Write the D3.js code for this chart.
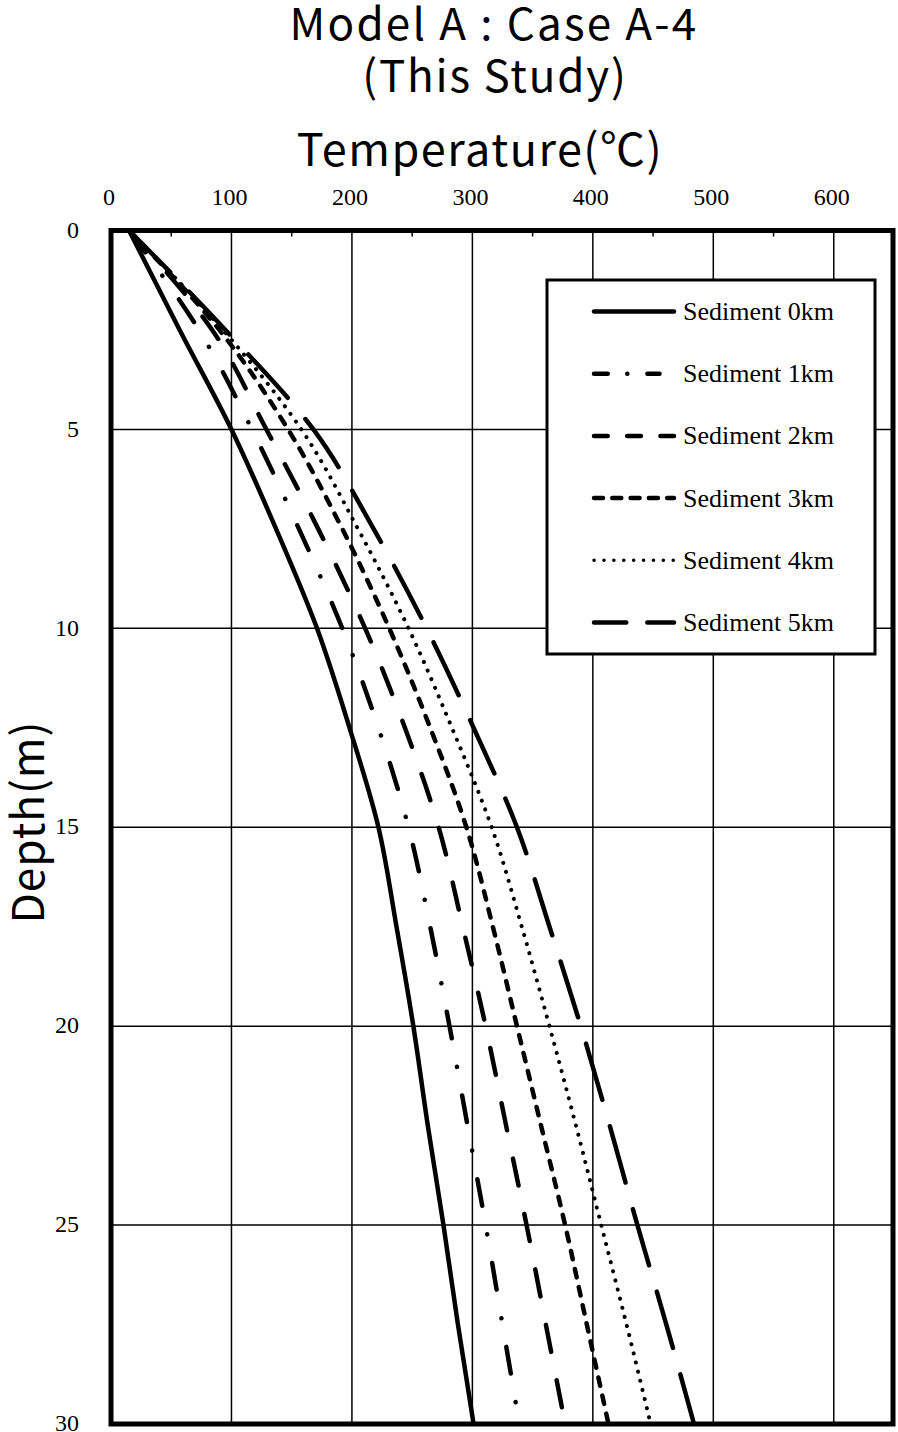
<!DOCTYPE html>
<html><head><meta charset="utf-8">
<script src="https://cdnjs.cloudflare.com/ajax/libs/d3/7.8.5/d3.min.js"></script>
<style>body{margin:0;background:#fff;} svg{display:block;}</style>
</head><body>
<svg id="chart" width="898" height="1432"></svg>
<script>
// ---- data ----
const depths = [0, 2.5, 5, 7.5, 10, 12.5, 15, 17.5, 20, 22.5, 25, 27.5, 30];
const sediment0 = [15, 57, 100, 137, 171, 198, 222, 237, 251, 263, 276, 288, 301];
const sediment1 = [15, 73, 117, 156, 192, 222, 247, 265, 281, 296, 311, 325, 339];
const sediment2 = [15, 84, 129, 172, 211, 244, 272, 292, 311, 328, 345, 361, 377];
const sediment3 = [15, 90, 147, 192, 231, 265, 295, 317, 337, 357, 377, 395, 413];
const sediment4 = [15, 93, 158, 205, 247, 283, 316, 341, 364, 386, 407, 428, 448];
const sediment5 = [15, 95, 168, 218, 262, 301, 337, 364, 390, 414, 437, 461, 484];
const seriesNames = ["Sediment 0km","Sediment 1km","Sediment 2km","Sediment 3km","Sediment 4km","Sediment 5km"];
const xTicks = [0, 100, 200, 300, 400, 500, 600];
const yTicks = [0, 5, 10, 15, 20, 25, 30];
const titleLines = ["Model A : Case A-4", "(This Study)"];
const xTitle = "Temperature(℃)";
const yTitle = "Depth(m)";

// ---- styles ----
const plotDash = ["none", "27,29,0.1,29", "27.5,29", "8.5,10", "0.1,9.3", "58.5,27.5"];
const plotWidth = [4.5, 4.5, 4.5, 4.5, 4, 4.5];
const legendDash = ["none", "13.75,19.5,0.1,20,12.2,100", "13.7,19.5", "9,9.3", "0.1,9.8", "32.3,21"];

const svg = d3.select("#chart");
const x = d3.scaleLinear().domain([0, 650]).range([111, 894]);
const y = d3.scaleLinear().domain([0, 30]).range([230.5, 1424]);

const sans = "'Noto Sans CJK JP', 'Noto Sans', sans-serif";
const serif = "'Liberation Serif', 'DejaVu Serif', serif";

// titles
svg.append("text").attr("x", 494).attr("y", 40).attr("text-anchor","middle")
  .style("font-family", sans).style("font-size","44px").style("letter-spacing","2.2px").text(titleLines[0]);
svg.append("text").attr("x", 495).attr("y", 92).attr("text-anchor","middle")
  .style("font-family", sans).style("font-size","44px").style("letter-spacing","1.8px").text(titleLines[1]);
svg.append("text").attr("x", 480).attr("y", 166).attr("text-anchor","middle")
  .style("font-family", sans).style("font-size","45px").style("letter-spacing","1.5px").text(xTitle);
svg.append("text").attr("transform","translate(44,822) rotate(-90)").attr("text-anchor","middle")
  .style("font-family", sans).style("font-size","44px").style("letter-spacing","1px").text(yTitle);

// gridlines
const g = svg.append("g");
g.selectAll(".vg").data(xTicks.filter(d => d > 0)).join("line")
  .attr("x1", d => x(d)).attr("x2", d => x(d)).attr("y1", y(0)).attr("y2", y(30))
  .attr("stroke","#000").attr("stroke-width",1.5);
g.selectAll(".hg").data(yTicks.filter(d => d > 0 && d < 30)).join("line")
  .attr("y1", d => y(d)).attr("y2", d => y(d)).attr("x1", x(0)).attr("x2", x(650))
  .attr("stroke","#000").attr("stroke-width",1.5);
// minor ticks on top
g.selectAll(".mt").data(d3.range(50, 650, 100)).join("line")
  .attr("x1", d => x(d)).attr("x2", d => x(d)).attr("y1", y(0)).attr("y2", y(0) + 6)
  .attr("stroke","#000").attr("stroke-width",1.5);

// tick labels
svg.selectAll(".xl").data(xTicks).join("text")
  .attr("x", d => x(d) - 2).attr("y", 205).attr("text-anchor","middle")
  .style("font-family", serif).style("font-size","24px").text(d => d);
svg.selectAll(".yl").data(yTicks).join("text")
  .attr("x", 79).attr("y", d => y(d)).attr("text-anchor","end").attr("dy","0.3em")
  .style("font-family", serif).style("font-size","24px").text(d => d);

// lines
const allSeries = [sediment0, sediment1, sediment2, sediment3, sediment4, sediment5];
const line = d3.line().x(d => x(d[1])).y(d => y(d[0])).curve(d3.curveMonotoneY);
svg.append("clipPath").attr("id","clip").append("rect")
  .attr("x", x(0)).attr("y", y(0)).attr("width", x(650)-x(0)).attr("height", y(30)-y(0));
const lg = svg.append("g").attr("clip-path","url(#clip)");
allSeries.forEach((s, i) => {
  lg.append("path").datum(depths.map((d, j) => [d, s[j]]))
    .attr("d", line).attr("fill","none").attr("stroke","#000")
    .attr("stroke-width", plotWidth[i]).attr("stroke-linecap","round")
    .attr("stroke-dasharray", plotDash[i]);
});

// frame
svg.append("rect").attr("x", x(0)).attr("y", y(0)).attr("width", x(650)-x(0)-1).attr("height", y(30)-y(0))
  .attr("fill","none").attr("stroke","#000").attr("stroke-width",5);

// legend
const leg = svg.append("g");
leg.append("rect").attr("x",547).attr("y",280).attr("width",328).attr("height",374)
  .attr("fill","#fff").attr("stroke","#000").attr("stroke-width",3);
seriesNames.forEach((name, i) => {
  const cy = 311.5 + i * 62.2;
  leg.append("line").attr("x1",594).attr("x2",674).attr("y1",cy).attr("y2",cy)
    .attr("stroke","#000").attr("stroke-width", i === 4 ? 3.5 : 4.5).attr("stroke-linecap","round")
    .attr("stroke-dasharray", legendDash[i]);
  leg.append("text").attr("x",683).attr("y",cy).attr("dy","0.33em")
    .style("font-family", serif).style("font-size","26px").text(name);
});
</script>
</body></html>
